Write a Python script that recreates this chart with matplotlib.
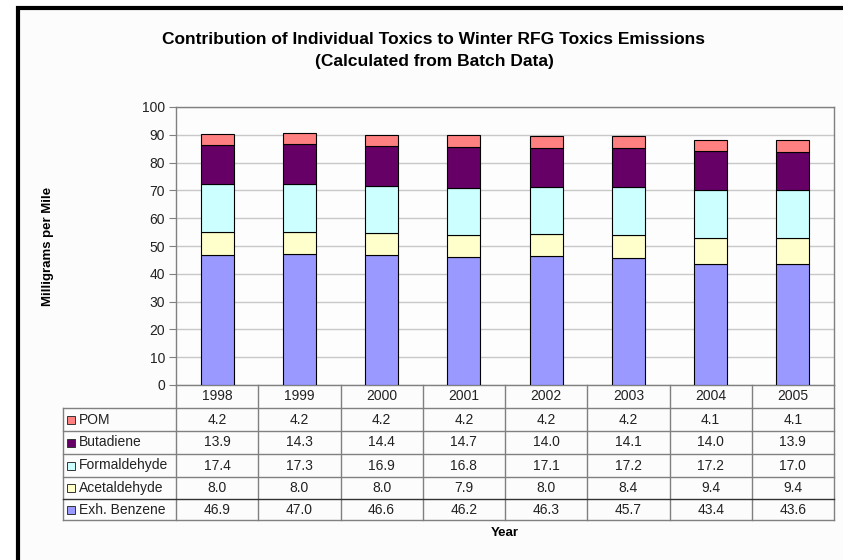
import matplotlib
matplotlib.use("Agg")
import matplotlib.pyplot as plt
import matplotlib.patches as patches
from matplotlib.lines import Line2D
from matplotlib import transforms

plt.rcParams['font.family'] = ['Liberation Sans', 'DejaVu Sans']

years = ['1998', '1999', '2000', '2001', '2002', '2003', '2004', '2005']
benzene = [46.9, 47.0, 46.6, 46.2, 46.3, 45.7, 43.4, 43.6]
acetaldehyde = [8.0, 8.0, 8.0, 7.9, 8.0, 8.4, 9.4, 9.4]
formaldehyde = [17.4, 17.3, 16.9, 16.8, 17.1, 17.2, 17.2, 17.0]
butadiene = [13.9, 14.3, 14.4, 14.7, 14.0, 14.1, 14.0, 13.9]
pom = [4.2, 4.2, 4.2, 4.2, 4.2, 4.2, 4.1, 4.1]

series_names = ['Exh. Benzene', 'Acetaldehyde', 'Formaldehyde', 'Butadiene', 'POM']
series_vals = [benzene, acetaldehyde, formaldehyde, butadiene, pom]
series_colors = ['#9999FF', '#FFFFCC', '#CCFFFF', '#660066', '#FF8080']

W, H = 843, 560
fig = plt.figure(figsize=(W / 100, H / 100), dpi=100)
fig.patch.set_facecolor('white')


def fx(px):
    return px / W


def fy(py):
    return 1 - py / H


# outer chart frame (thick left/top edge)
fig.add_artist(patches.Rectangle((fx(18), fy(600)), 1.2, (600 - 8) / H,
                                 transform=fig.transFigure, fc='#FCFCFC',
                                 ec='black', lw=3.0, zorder=0))

fig.text(fx(434), fy(40), 'Contribution of Individual Toxics to Winter RFG Toxics Emissions',
         ha='center', va='center', fontsize=12.5, fontweight='bold')
fig.text(fx(434), fy(61), '(Calculated from Batch Data)',
         ha='center', va='center', fontsize=12.5, fontweight='bold')

left, right, top, bottom = 176, 834, 107, 385
ax = fig.add_axes([fx(left), fy(bottom), fx(right - left), (bottom - top) / H])
ax.set_facecolor('#FDFDFD')

x = list(range(len(years)))
base = [0.0] * len(years)
for name, vals, col in zip(series_names, series_vals, series_colors):
    ax.bar(x, vals, bottom=base, width=0.4, color=col, edgecolor='black',
           linewidth=0.8, label=name, zorder=3)
    base = [b + v for b, v in zip(base, vals)]

ax.set_xlim(-0.5, len(years) - 0.5)
ax.set_ylim(0, 100)
ax.set_yticks(range(0, 101, 10))
ax.yaxis.grid(True, color='#C8C8C8', lw=1.0, zorder=0)
ax.set_xticks([])
for s in ax.spines.values():
    s.set_color('#808080')
    s.set_linewidth(1.0)
ax.tick_params(axis='y', length=5, color='#808080', labelsize=10,
               labelcolor='#222222', pad=3)
ax.set_ylabel('Milligrams per Mile', fontsize=9.5, fontweight='bold', labelpad=0)
ax.yaxis.set_label_coords(-0.186, 0.5)

# data table below the plot
tr = transforms.blended_transform_factory(ax.transData, fig.transFigure)
unit = (right - left) / len(years)
leg_left = -0.5 - (left - 63) / unit
x_right = len(years) - 0.5
lc = '#808080'

header_top, header_bot = 385, 408
row_edges = [408, 431, 454, 477, 499, 520]

# header row with years
for i, yr in enumerate(years):
    fig.text(i, fy((header_top + header_bot) / 2), yr, transform=tr,
             ha='center', va='center', fontsize=10, color='#222222')

for i in range(len(years) + 1):
    xb = i - 0.5
    fig.add_artist(Line2D([xb, xb], [fy(header_top), fy(row_edges[-1])],
                          transform=tr, color=lc, lw=1.0))
fig.add_artist(Line2D([leg_left, leg_left], [fy(row_edges[0]), fy(row_edges[-1])],
                      transform=tr, color=lc, lw=1.0))
for k, yl in enumerate(row_edges):
    col = '#333333' if k == 4 else lc
    fig.add_artist(Line2D([leg_left, x_right], [fy(yl), fy(yl)],
                          transform=tr, color=col, lw=1.0))

# rows are listed top-down: POM first
for r, (name, vals, col) in enumerate(zip(series_names[::-1], series_vals[::-1],
                                            series_colors[::-1])):
    yc = (row_edges[r] + row_edges[r + 1]) / 2
    fig.add_artist(patches.Rectangle((fx(67), fy(yc + 4)), fx(8), 8 / H,
                                     transform=fig.transFigure, fc=col,
                                     ec='#333333', lw=0.7))
    fig.text(fx(79), fy(yc), name, ha='left', va='center', fontsize=10,
             color='#222222')
    for i, v in enumerate(vals):
        fig.text(i, fy(yc), f'{v:.1f}', transform=tr, ha='center', va='center',
                 fontsize=10, color='#222222')

fig.text(fx(505), fy(533), 'Year', ha='center', va='center', fontsize=9.5,
         fontweight='bold')

fig.savefig('out.png', dpi=100)
